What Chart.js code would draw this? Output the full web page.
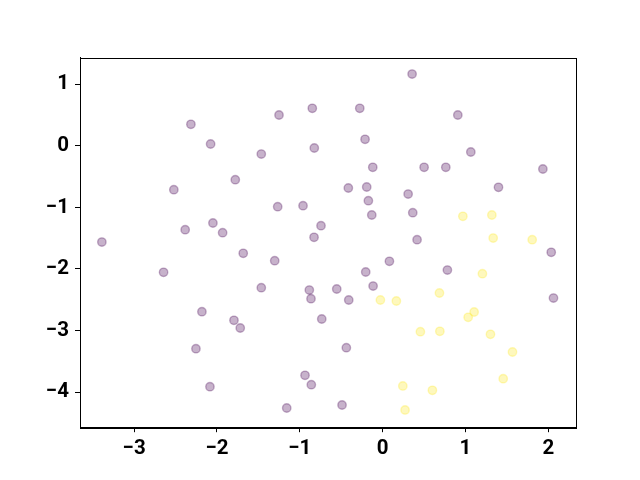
<!DOCTYPE html>
<html>
<head>
<meta charset="utf-8">
<script src="https://cdn.jsdelivr.net/npm/chart.js@4"></script>
<style>
html,body{margin:0;padding:0;background:#fff;}
canvas{display:block;}
</style>
</head>
<body>
<canvas id="c" width="640" height="480"></canvas>
<script>
const purpleX = [-2.315,-2.077,-1.251,-0.849,-0.825,-1.465,-1.779,-2.521,-1.267,-0.961,-2.049,-2.384,-1.932,-0.744,-0.828,-3.390,0.356,-0.276,0.908,-0.212,1.065,-0.119,0.501,0.763,1.935,-0.414,-0.192,1.399,0.308,-0.172,-0.131,0.364,0.416,-1.683,-1.303,-2.645,-1.465,-0.885,-0.865,-0.735,-2.182,-1.795,-1.719,-2.254,-0.937,-0.861,-2.085,-1.158,2.036,0.082,-0.204,0.782,-0.115,-0.554,-0.409,2.063,-0.438,-0.490];
const purpleY = [0.350,0.030,0.501,0.610,-0.035,-0.133,-0.550,-0.713,-0.989,-0.973,-1.254,-1.363,-1.411,-1.298,-1.486,-1.563,1.167,0.610,0.501,0.106,-0.100,-0.349,-0.349,-0.349,-0.376,-0.685,-0.669,-0.674,-0.783,-0.891,-1.124,-1.086,-1.525,-1.746,-1.866,-2.055,-2.305,-2.343,-2.484,-2.814,-2.695,-2.835,-2.960,-3.296,-3.729,-3.881,-3.914,-4.260,-1.730,-1.876,-2.050,-2.018,-2.278,-2.326,-2.505,-2.473,-3.280,-4.211];
const yellowX = [0.969,1.319,1.335,1.806,1.205,0.686,-0.027,0.166,1.105,1.033,0.456,0.691,1.302,1.568,1.456,0.244,0.601,0.271];
const yellowY = [-1.145,-1.124,-1.498,-1.525,-2.078,-2.391,-2.505,-2.521,-2.700,-2.786,-3.020,-3.014,-3.062,-3.350,-3.784,-3.902,-3.972,-4.292];
const xTicks = [-3,-2,-1,0,1,2];
const yTicks = [-4,-3,-2,-1,0,1];
const xTickLabels = ['\u22123','\u22122','\u22121','0','1','2'];
const yTickLabels = ['\u22124','\u22123','\u22122','\u22121','0','1'];

const toPts = (xs, ys) => xs.map((x, i) => ({x: x, y: ys[i]}));

const boxPlugin = {
  id: 'box',
  afterDraw(chart) {
    const a = chart.chartArea, ctx = chart.ctx;
    ctx.save();
    ctx.strokeStyle = '#000';
    ctx.lineWidth = 1;
    ctx.strokeRect(Math.round(a.left) + 0.5, Math.round(a.top) + 0.5, Math.round(a.right - a.left), Math.round(a.bottom - a.top));
    ctx.restore();
  }
};

const tickFont = {family: 'Roboto', weight: 'bold', size: 20.5};

new Chart(document.getElementById('c'), {
  type: 'scatter',
  data: {
    datasets: [
      {data: toPts(purpleX, purpleY), backgroundColor: 'rgba(68,1,84,0.3)', borderColor: 'rgba(68,1,84,0.3)', borderWidth: 1.4, pointRadius: 4.2, pointHoverRadius: 4.2},
      {data: toPts(yellowX, yellowY), backgroundColor: 'rgba(253,231,37,0.3)', borderColor: 'rgba(253,231,37,0.3)', borderWidth: 1.4, pointRadius: 4.2, pointHoverRadius: 4.2}
    ]
  },
  options: {
    responsive: false,
    animation: false,
    devicePixelRatio: 1,
    layout: {padding: {left: 0, right: 64, top: 57.6, bottom: 0}},
    plugins: {legend: {display: false}, tooltip: {enabled: false}},
    scales: {
      x: {
        type: 'linear',
        min: -3.654, max: 2.335,
        afterBuildTicks: s => { s.ticks = xTicks.map(v => ({value: v})); },
        afterFit: s => { s.height = 52.8; },
        grid: {display: true, drawOnChartArea: false, drawTicks: true, tickLength: 5, tickColor: '#000', tickWidth: 1},
        border: {display: true, color: '#000', width: 1},
        ticks: {color: '#000', font: tickFont, padding: 4, maxRotation: 0,
          callback: v => { const i = xTicks.indexOf(v); return i >= 0 ? xTickLabels[i] : ''; }}
      },
      y: {
        type: 'linear',
        min: -4.572, max: 1.434,
        afterBuildTicks: s => { s.ticks = yTicks.map(v => ({value: v})); },
        afterFit: s => { s.width = 80; },
        grid: {display: true, drawOnChartArea: false, drawTicks: true, tickLength: 5, tickColor: '#000', tickWidth: 1},
        border: {display: true, color: '#000', width: 1},
        ticks: {color: '#000', font: tickFont, padding: 6,
          callback: v => { const i = yTicks.indexOf(v); return i >= 0 ? yTickLabels[i] : ''; }}
      }
    }
  },
  plugins: [boxPlugin]
});
</script>
</body>
</html>
